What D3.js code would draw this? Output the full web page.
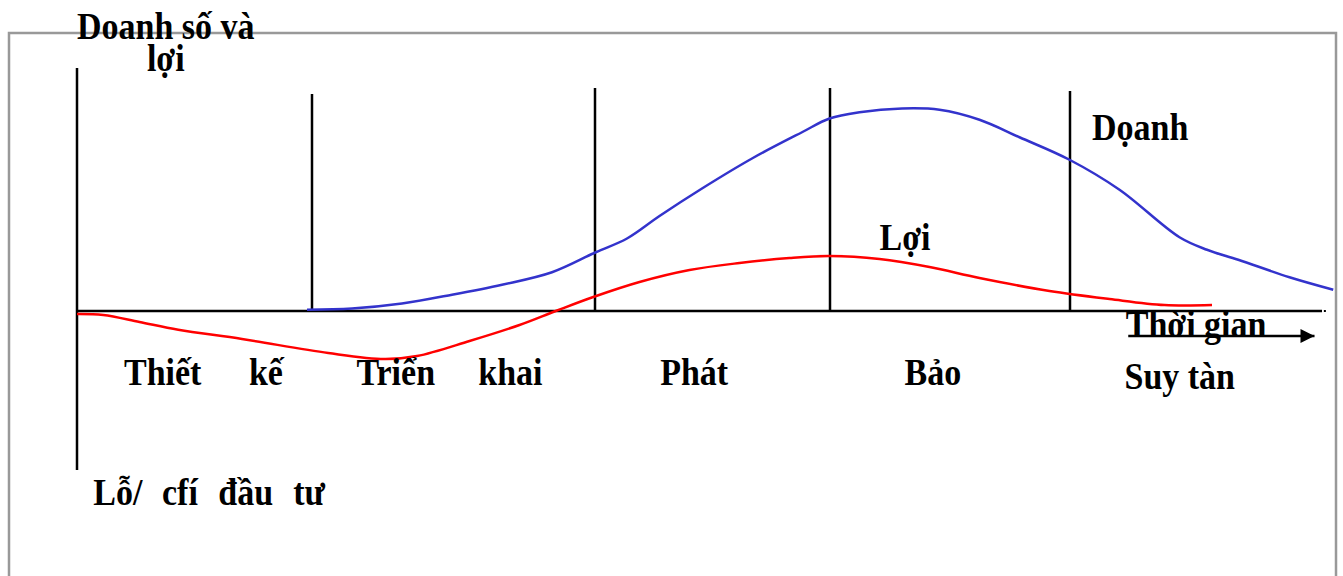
<!DOCTYPE html>
<html>
<head>
<meta charset="utf-8">
<script src="https://cdn.jsdelivr.net/npm/d3@7"></script>
<style>
  body { margin: 0; background: #fff; }
  text { font-family: "Liberation Serif", "Times New Roman", serif; font-weight: bold; fill: #000; }
</style>
</head>
<body>
<div id="chart"></div>
<script>
// time runs 0..100, value 0 is the horizontal axis
const salesTime = [18.4, 22, 26, 30, 34, 38, 41.5, 44, 46.6, 50, 54, 58, 60.2, 62.6, 66, 69, 72.2, 75.4, 79.4, 83.4, 88.2, 90.4, 92.9, 97, 100.5];
const salesValue = [0.1, 0.2, 0.6, 1.3, 2.1, 3.1, 4.7, 5.8, 7.6, 9.8, 12.2, 14.3, 15.4, 15.9, 16.2, 16.1, 15.3, 13.9, 12.1, 9.7, 5.9, 4.9, 4.1, 2.7, 1.7];

const profitTime = [0, 2.1, 5, 8.1, 13.2, 20.1, 24.6, 27.2, 31.4, 35.4, 38.3, 41.3, 45, 49, 53, 57, 60.2, 64.2, 68.2, 72.2, 77.8, 82.6, 87, 90.8];
const profitValue = [-0.24, -0.32, -0.88, -1.5, -2.24, -3.36, -3.84, -3.6, -2.4, -1.12, 0, 1.12, 2.32, 3.28, 3.84, 4.24, 4.4, 4.16, 3.52, 2.64, 1.6, 0.96, 0.48, 0.48];

const stageBounds = [18.8, 41.44, 60.24, 79.44];
const stageTops = [17.36, 17.84, 17.84, 17.6];

const titleLines = ["Doanh số và", "lợi"];

const width = 1343;
const height = 576;

const x = d3.scaleLinear().domain([0, 100]).range([77, 1327]);
const y = d3.scaleLinear().domain([-10, 20]).range([436, 61]);

const svg = d3
  .select("#chart")
  .append("svg")
  .attr("width", width)
  .attr("height", height);

// gray frame, runs off the bottom
svg
  .append("rect")
  .attr("x", 9)
  .attr("y", 33)
  .attr("width", 1327)
  .attr("height", 600)
  .attr("fill", "none")
  .attr("stroke", "#999")
  .attr("stroke-width", 2.5);

// axes
svg
  .append("line")
  .attr("x1", x(0))
  .attr("x2", x(0))
  .attr("y1", y(19.44))
  .attr("y2", y(-12.72))
  .attr("stroke", "#000")
  .attr("stroke-width", 2.5);

svg
  .append("line")
  .attr("x1", x(0))
  .attr("x2", x(99.6))
  .attr("y1", y(0))
  .attr("y2", y(0))
  .attr("stroke", "#000")
  .attr("stroke-width", 2.5);

svg
  .append("rect")
  .attr("x", x(99.75))
  .attr("y", y(0) - 1)
  .attr("width", 2)
  .attr("height", 2)
  .attr("fill", "#000");

// stage separators
svg
  .append("g")
  .selectAll("line")
  .data(stageBounds)
  .enter()
  .append("line")
  .attr("x1", (d) => x(d))
  .attr("x2", (d) => x(d))
  .attr("y1", (d, i) => y(stageTops[i]))
  .attr("y2", y(0))
  .attr("stroke", "#000")
  .attr("stroke-width", 2.5);

// arrow head
svg
  .append("defs")
  .append("marker")
  .attr("id", "head")
  .attr("viewBox", "0 0 10 10")
  .attr("refX", 10)
  .attr("refY", 5)
  .attr("markerWidth", 16)
  .attr("markerHeight", 14)
  .attr("markerUnits", "userSpaceOnUse")
  .attr("orient", "auto")
  .append("path")
  .attr("d", "M0,0L10,5L0,10Z")
  .attr("fill", "#000");

const sales = salesTime.map((t, i) => ({ t: t, v: salesValue[i] }));
const profit = profitTime.map((t, i) => ({ t: t, v: profitValue[i] }));

const line = d3
  .line()
  .x((d) => x(d.t))
  .y((d) => y(d.v))
  .curve(d3.curveCatmullRom.alpha(0.5));

svg
  .append("path")
  .attr("d", line(sales))
  .attr("fill", "none")
  .attr("stroke", "#3333cc")
  .attr("stroke-width", 2.5);

svg
  .append("path")
  .attr("d", line(profit))
  .attr("fill", "none")
  .attr("stroke", "#ff0000")
  .attr("stroke-width", 2.5);

// labels
const fs = 34;
const label = (txt, tx, vy, anchor) =>
  svg
    .append("text")
    .attr("transform", `translate(${x(tx)},${y(vy)}) scale(1,1.09)`)
    .attr("font-size", fs)
    .attr("text-anchor", anchor || "start")
    .text(txt);

// two-line y title as one text
svg
  .append("text")
  .attr("transform", `translate(${x(7.1)},${y(21.8)}) scale(1,1.09)`)
  .attr("font-size", fs)
  .attr("text-anchor", "middle")
  .selectAll("tspan")
  .data(titleLines)
  .enter()
  .append("tspan")
  .attr("x", 0)
  .attr("dy", (d, i) => (i === 0 ? 0 : 29.5))
  .text((d) => d);

label("Dọanh", 81.2, 13.7);
label("Lợi", 64.2, 4.9);
label("Thời gian", 83.9, -2.1);
label("Thiết", 3.76, -5.9);
label("kế", 13.75, -5.9);
label("Triển", 22.35, -5.9);
label("khai", 32.1, -5.9);
label("Phát", 46.65, -5.9);
label("Bảo", 66.2, -5.9);
label("Suy tàn", 83.8, -6.2);
label("Lỗ/", 1.3, -15.5);
label("cfí", 6.8, -15.5);
label("đầu", 11.3, -15.5);
label("tư", 17.3, -15.5);

svg
  .append("line")
  .attr("x1", x(84.1))
  .attr("x2", x(99))
  .attr("y1", y(-2))
  .attr("y2", y(-2))
  .attr("stroke", "#000")
  .attr("stroke-width", 2.5)
  .attr("marker-end", "url(#head)");
</script>
</body>
</html>
